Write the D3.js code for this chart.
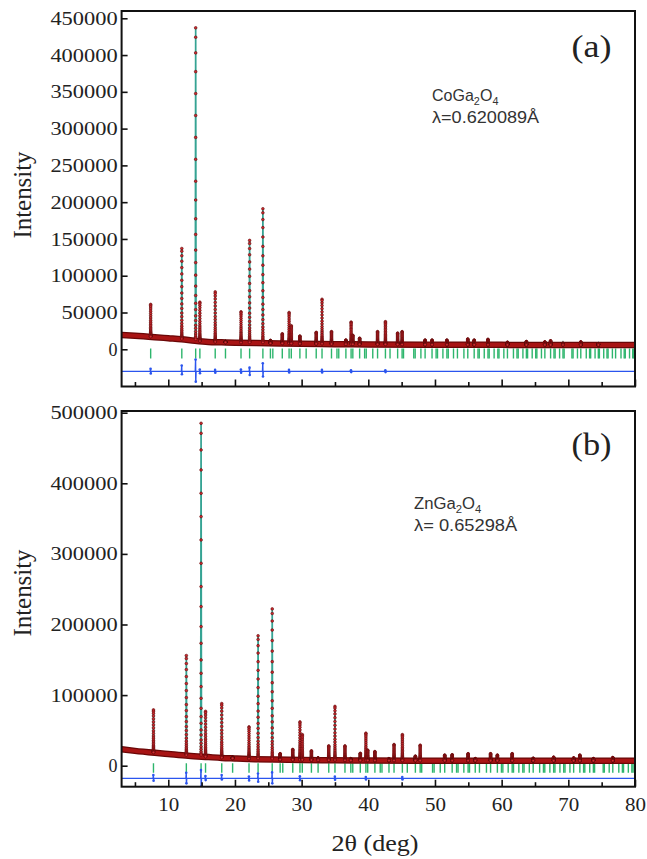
<!DOCTYPE html>
<html><head><meta charset="utf-8">
<script src="https://cdn.jsdelivr.net/npm/d3@7"></script>
<style>body{margin:0;background:#fff}svg{display:block}</style>
</head><body>
<svg id="chart" width="647" height="859"></svg>
<script>
// ---------------- DATA ----------------
const xDomain = [3, 80];
const xMajorTicks = [10, 20, 30, 40, 50, 60, 70, 80];
const xMinorTicks = [5, 15, 25, 35, 45, 55, 65, 75];
const yTicksA = [0, 50000, 100000, 150000, 200000, 250000, 300000, 350000, 400000, 450000];
const yTicksB = [0, 100000, 200000, 300000, 400000, 500000];

// (a) CoGa2O4 background (2θ, intensity)
const bgPosA = [3, 5, 8, 10, 12, 14, 16, 18, 20, 25, 30, 35, 40, 50, 60, 70, 80];
const bgIntA = [19500, 18500, 16500, 15000, 13500, 11500, 10000, 9500, 9000, 8200, 7500, 7000, 6600, 6200, 6000, 5900, 5800];
// (a) peaks: position (2θ) and maximum observed intensity
const peakPosA = [7.36, 12.03, 14.11, 14.74, 17.04, 18.58, 20.91, 22.20, 24.19, 25.32, 27.10, 28.12, 28.45, 29.74, 32.19, 33.06, 34.48, 36.64, 37.42, 37.68, 38.70, 41.39, 42.57, 44.40, 45.07, 48.52, 49.56, 51.79, 54.92, 55.88, 57.95, 60.87, 63.71, 66.48, 67.34, 69.20, 71.87, 74.50];
const peakIntA = [61000, 137000, 437000, 64000, 78000, 10500, 51000, 148000, 191000, 12000, 21000, 50000, 32000, 18000, 23000, 68000, 24000, 12500, 37000, 19000, 15000, 24000, 37500, 22000, 24000, 12500, 12500, 12500, 14000, 12500, 13500, 9500, 10500, 10000, 11500, 8000, 10000, 7500];
// (a) Bragg reflection positions
const braggA = [7.36, 12.03, 14.11, 14.74, 17.04, 18.58, 20.91, 22.20, 24.19, 25.32, 25.68, 27.10, 28.12, 28.45, 29.74, 30.68, 32.19, 33.06, 34.48, 35.30, 35.57, 36.64, 37.42, 37.68, 38.70, 39.45, 39.69, 40.67, 41.39, 42.57, 43.26, 44.40, 45.07, 45.28, 46.82, 47.03, 47.89, 48.52, 49.56, 50.17, 50.38, 51.19, 51.79, 51.99, 52.78, 53.37, 54.34, 54.92, 55.88, 56.45, 56.64, 57.39, 57.95, 58.13, 58.87, 59.43, 59.60, 60.33, 60.87, 61.77, 62.30, 62.48, 63.19, 63.71, 63.89, 64.58, 65.11, 65.28, 65.97, 66.48, 67.34, 67.85, 68.02, 68.69, 69.20, 69.37, 70.54, 70.71, 71.37, 71.87, 72.69, 73.19, 73.35, 74.01, 74.50, 74.66, 75.31, 75.80, 75.96, 76.61, 77.09, 77.90, 78.38, 78.54, 79.18, 79.66, 79.82];
// (a) difference curve: baseline and spikes
const diffBaseA = -30000;
const diffPosA = [7.36, 12.03, 14.11, 14.74, 17.04, 20.91, 22.20, 24.19, 28.12, 33.06, 37.42, 42.57];
const diffUpA = [3500, 8000, 16000, 2500, 2000, 2500, 5000, 11000, 2000, 2000, 1500, 1500];
const diffDownA = [3000, 4000, 14000, 2500, 2000, 2000, 5000, 7000, 1500, 1500, 1000, 1000];
const braggRangeA = [1000, -12500];

// (b) ZnGa2O4
const bgPosB = [3, 5, 8, 10, 13, 16, 18, 20, 23, 26, 30, 35, 40, 50, 60, 70, 80];
const bgIntB = [23200, 21000, 18200, 16500, 14000, 12200, 11000, 10300, 9300, 8700, 8100, 7600, 7300, 7100, 7000, 7000, 7000];
const peakPosB = [7.78, 12.71, 14.92, 15.59, 18.02, 19.65, 22.11, 23.47, 25.59, 26.78, 28.67, 29.75, 30.10, 31.47, 32.47, 34.07, 35.00, 36.50, 37.38, 38.80, 39.64, 39.91, 40.99, 43.10, 43.86, 45.11, 47.06, 47.78, 51.46, 52.58, 54.97, 56.04, 58.34, 59.36, 61.58, 64.73, 67.80, 70.80, 71.73, 73.76, 76.67];
const peakIntB = [79000, 156000, 485000, 77000, 88000, 12000, 55000, 184000, 222000, 17000, 23000, 62000, 44000, 21000, 11000, 28000, 84000, 28000, 10000, 17500, 46000, 22000, 20000, 10000, 30000, 44000, 13500, 29000, 15000, 15500, 17000, 10000, 17000, 15000, 17000, 10500, 12000, 11000, 15000, 10000, 11500];
const braggB = [7.78, 12.71, 14.92, 15.59, 18.02, 19.65, 22.11, 23.47, 25.59, 26.78, 27.17, 28.67, 29.75, 30.10, 31.47, 32.47, 34.07, 35.00, 36.50, 37.38, 37.67, 38.80, 39.64, 39.91, 40.99, 41.79, 42.05, 43.10, 43.86, 45.11, 45.85, 47.06, 47.78, 48.01, 49.64, 49.87, 50.79, 51.46, 52.58, 53.24, 53.46, 54.33, 54.97, 55.18, 56.04, 56.67, 57.72, 58.34, 59.36, 59.97, 60.18, 60.98, 61.58, 61.78, 62.58, 63.17, 63.36, 64.15, 64.73, 65.70, 66.27, 66.47, 67.23, 67.80, 67.99, 68.74, 69.31, 69.50, 70.24, 70.80, 71.73, 72.29, 72.47, 73.21, 73.76, 73.94, 75.23, 75.40, 76.13, 76.67, 77.57, 78.11, 78.28, 79.00, 79.53, 79.71];
const diffBaseB = -18000;
const diffPosB = [7.78, 12.71, 14.92, 15.59, 18.02, 22.11, 23.47, 25.59, 29.75, 35.00, 39.64, 45.11];
const diffUpB = [4700, 8000, 11800, 3300, 4700, 2800, 7000, 8500, 3000, 2500, 2000, 2000];
const diffDownB = [3300, 7000, 11500, 2400, 1500, 2800, 4700, 7000, 2500, 2000, 1500, 1500];
const braggRangeB = [3500, -10000];

// sampled heights of observed points along a peak (fraction of peak above background)
const profileFractions = [1, 0.97, 0.92, 0.86, 0.79, 0.72, 0.65, 0.58, 0.51, 0.45, 0.39, 0.34, 0.29, 0.25, 0.21, 0.175, 0.145, 0.12, 0.1, 0.08, 0.065, 0.05, 0.04, 0.03, 0.022, 0.015, 0.01, 0.005];

// ---------------- LAYOUT / STYLE ----------------
const svg = d3.select("#chart");
const left = 121.6, right = 635;
const colors = {obsFill: "#d22a30", obsStroke: "#5a0808", band: "#a81414", bandEdge: "#6a0707",
  calc: "#35a393", bragg: "#2db56c", diff: "#2b55ee"};
const serif = "'Liberation Serif','Times New Roman',serif";
const sans = "'Liberation Sans',Arial,sans-serif";

const panels = [
  {top: 11, bottom: 386.5, yDomain: [-50600, 459900], yTicks: yTicksA, bgPos: bgPosA, bgInt: bgIntA,
   peakPos: peakPosA, peakInt: peakIntA, bragg: braggA, braggRange: braggRangeA,
   diffBase: diffBaseA, diffPos: diffPosA, diffUp: diffUpA, diffDown: diffDownA, xLabels: false,
   tag: "(a)", tagY: 57, compound: ["CoGa", "2", "O", "4"], lambda: "λ=0.620089Å",
   annX: 432, annY1: 101, annY2: 123, annW1: 67, annW2: 108, intensityY: 195},
  {top: 411, bottom: 786.7, yDomain: [-29750, 502400], yTicks: yTicksB, bgPos: bgPosB, bgInt: bgIntB,
   peakPos: peakPosB, peakInt: peakIntB, bragg: braggB, braggRange: braggRangeB,
   diffBase: diffBaseB, diffPos: diffPosB, diffUp: diffUpB, diffDown: diffDownB, xLabels: true,
   tag: "(b)", tagY: 455, compound: ["ZnGa", "2", "O", "4"], lambda: "λ= 0.65298Å",
   annX: 414, annY1: 509, annY2: 531, annW1: 68, annW2: 104, intensityY: 593}
];

const x = d3.scaleLinear().domain(xDomain).range([left, right]);

function fitWidth(sel, tx, ty, w) {
  const bw = sel.node().getBBox().width;
  sel.attr("transform", `translate(${tx},${ty}) scale(${w / bw},1)`);
}

panels.forEach((p, pi) => {
  const y = d3.scaleLinear().domain(p.yDomain).range([p.bottom, p.top]);
  const g = svg.append("g");
  const clipId = "clip" + pi;
  svg.append("clipPath").attr("id", clipId).append("rect")
    .attr("x", left).attr("y", p.top).attr("width", right - left).attr("height", p.bottom - p.top);
  const plot = g.append("g").attr("clip-path", `url(#${clipId})`);

  // background as piecewise function of 2θ
  const bg = d3.scaleLinear().domain(p.bgPos).range(p.bgInt).clamp(true);

  // Bragg ticks
  plot.append("g").selectAll("line").data(p.bragg).join("line")
    .attr("x1", d => x(d)).attr("x2", d => x(d))
    .attr("y1", y(p.braggRange[0])).attr("y2", y(p.braggRange[1]))
    .attr("stroke", colors.bragg).attr("stroke-width", 1.4);

  // difference curve
  const dpts = [[xDomain[0], p.diffBase]];
  p.diffPos.forEach((d, i) => {
    dpts.push([d - 0.06, p.diffBase], [d - 0.015, p.diffBase + p.diffUp[i]],
              [d + 0.015, p.diffBase - p.diffDown[i]], [d + 0.06, p.diffBase]);
  });
  dpts.push([xDomain[1], p.diffBase]);
  plot.append("path").datum(dpts)
    .attr("d", d3.line().x(d => x(d[0])).y(d => y(d[1])))
    .attr("fill", "none").attr("stroke", colors.diff).attr("stroke-width", 1.4);
  plot.append("g").selectAll("circle").data(dpts.filter(d => d[1] !== p.diffBase)).join("circle")
    .attr("cx", d => x(d[0])).attr("cy", d => y(d[1])).attr("r", 1.3).attr("fill", colors.diff);

  // calculated profile (drawn first; the dense observed band covers it at the baseline)
  const cpts = p.bgPos.filter(b => !p.peakPos.some(q => Math.abs(q - b) < 0.12)).map(b => [b, bg(b)]);
  p.peakPos.forEach((q, i) => {
    cpts.push([q - 0.06, bg(q - 0.06)], [q, p.peakInt[i]], [q + 0.06, bg(q + 0.06)]);
  });
  cpts.sort((a, b) => a[0] - b[0]);
  plot.append("path").datum(cpts).attr("d", d3.line().x(d => x(d[0])).y(d => y(d[1])))
    .attr("fill", "none").attr("stroke", colors.calc).attr("stroke-width", 1.7);

  // dense observed background band
  const bandLine = d3.line().x((d, i) => x(p.bgPos[i])).y(d => y(d)).curve(d3.curveMonotoneX);
  plot.append("path").datum(p.bgInt).attr("d", bandLine)
    .attr("fill", "none").attr("stroke", colors.bandEdge).attr("stroke-width", 6.5);
  plot.append("path").datum(p.bgInt).attr("d", bandLine)
    .attr("fill", "none").attr("stroke", colors.band).attr("stroke-width", 4);

  // observed points along peaks
  const obs = [];
  p.peakPos.forEach((q, i) => {
    const b = bg(q);
    profileFractions.forEach(f => obs.push([q, b + f * (p.peakInt[i] - b)]));
  });
  plot.append("g").selectAll("circle").data(obs).join("circle")
    .attr("cx", d => x(d[0])).attr("cy", d => y(d[1])).attr("r", 1.35)
    .attr("fill", colors.obsFill).attr("stroke", colors.obsStroke).attr("stroke-width", 0.6);

  // frame
  g.append("rect").attr("x", left).attr("y", p.top).attr("width", right - left).attr("height", p.bottom - p.top)
    .attr("fill", "none").attr("stroke", "#111").attr("stroke-width", 2);

  // y axis
  const ya = g.append("g").attr("transform", `translate(${left},0)`)
    .call(d3.axisLeft(y).tickValues(p.yTicks).tickSize(-6).tickPadding(4).tickFormat(d3.format("d")));
  ya.select(".domain").remove();
  ya.selectAll(".tick line").attr("stroke", "#111").attr("stroke-width", 1.6);
  ya.selectAll("text").attr("font-family", serif).attr("font-size", 19).attr("fill", "#222")
    .attr("textLength", d => String(d).length === 1 ? 9 : String(d).length * 11.2)
    .attr("lengthAdjust", "spacingAndGlyphs");

  // x axis major and minor ticks
  const xa = g.append("g").attr("transform", `translate(0,${p.bottom})`)
    .call(d3.axisBottom(x).tickValues(xMajorTicks).tickSize(-7).tickPadding(11)
      .tickFormat(p.xLabels ? d3.format("d") : () => ""));
  xa.select(".domain").remove();
  xa.selectAll(".tick line").attr("stroke", "#111").attr("stroke-width", 1.6);
  xa.selectAll("text").attr("font-family", serif).attr("font-size", 19).attr("fill", "#222")
    .attr("textLength", 21).attr("lengthAdjust", "spacingAndGlyphs");
  const xm = g.append("g").attr("transform", `translate(0,${p.bottom})`)
    .call(d3.axisBottom(x).tickValues(xMinorTicks).tickSize(-4.5).tickFormat(() => ""));
  xm.select(".domain").remove();
  xm.selectAll(".tick line").attr("stroke", "#111").attr("stroke-width", 1.6);

  // Intensity label
  g.append("text").attr("transform", `translate(31,${p.intensityY}) rotate(-90)`)
    .attr("text-anchor", "middle").attr("font-family", serif).attr("font-size", 25).attr("fill", "#222")
    .attr("textLength", 87).attr("lengthAdjust", "spacingAndGlyphs").text("Intensity");

  // panel tag
  g.append("text").attr("x", 571.5).attr("y", p.tagY).attr("font-family", serif).attr("font-size", 31)
    .attr("fill", "#222").attr("textLength", 40).attr("lengthAdjust", "spacingAndGlyphs").text(p.tag);

  // compound annotation
  const t1 = g.append("text").attr("font-family", sans).attr("font-size", 17).attr("fill", "#333");
  t1.append("tspan").text(p.compound[0]);
  t1.append("tspan").attr("font-size", 11.5).attr("dy", 4).text(p.compound[1]);
  t1.append("tspan").attr("dy", -4).text(p.compound[2]);
  t1.append("tspan").attr("font-size", 11.5).attr("dy", 4).text(p.compound[3]);
  fitWidth(t1, p.annX, p.annY1, p.annW1);
  const t2 = g.append("text").attr("font-family", sans).attr("font-size", 17).attr("fill", "#333").text(p.lambda);
  fitWidth(t2, p.annX, p.annY2, p.annW2);
});

// x title
svg.append("text").attr("x", 375).attr("y", 851).attr("text-anchor", "middle")
  .attr("font-family", serif).attr("font-size", 23).attr("fill", "#222")
  .attr("textLength", 87).attr("lengthAdjust", "spacingAndGlyphs").text("2θ (deg)");
</script>
</body></html>
